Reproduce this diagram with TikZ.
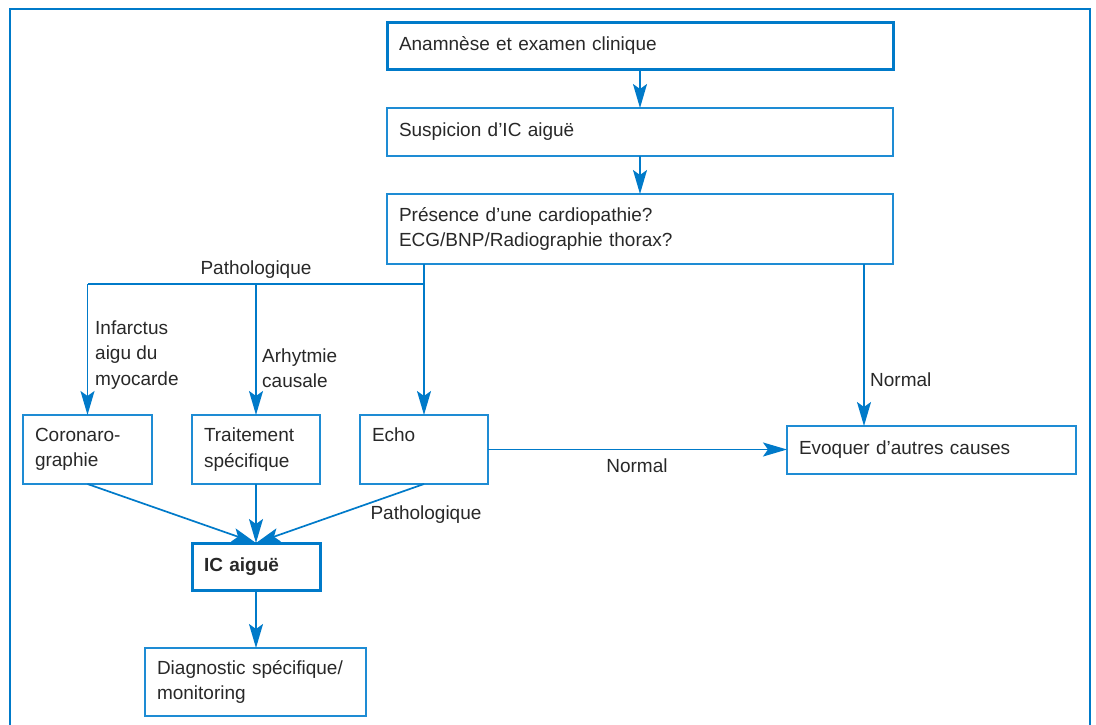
\documentclass[tikz,border=0pt]{standalone}
\usepackage{fontspec}
\setmainfont{Liberation Sans}
\usetikzlibrary{arrows.meta}
\definecolor{lineblue}{RGB}{0,122,201}
\definecolor{boxblue}{RGB}{30,140,212}
\definecolor{txt}{RGB}{40,40,40}
\tikzset{
  box/.style={draw=boxblue, line width=1.5pt, anchor=north west, inner xsep=12pt, inner ysep=0pt,
    outer sep=0pt, align=left, text=txt, font=\fontsize{19}{25.5}\selectfont},
  thickbox/.style={box, draw=lineblue, line width=3pt},
  lbl/.style={inner sep=0pt, text=txt, align=left, font=\fontsize{19}{25.5}\selectfont},
  conn/.style={draw=lineblue, line width=1.7pt},
  arr/.style={conn, -{Stealth[length=24pt,width=14pt,inset=5pt]}}
}
\begin{document}
\begin{tikzpicture}[x=1pt,y=-1pt]
\useasboundingbox (0,0) rectangle (1096,724);
% outer frame (open at bottom)
\draw[draw=lineblue, line width=2.5pt] (10,730) -- (10,9) -- (1090,9) -- (1090,730);

\node[thickbox, text width=482pt, minimum height=47pt] (a) at (387,22) {Anamnèse et examen clinique};
\node[box, text width=482pt, minimum height=48pt] (b) at (387,108) {Suspicion d’IC aiguë};
\node[box, text width=482pt, minimum height=70pt] (c) at (387,194) {Présence d’une cardiopathie?\\ECG/BNP/Radiographie thorax?};
\node[box, text width=105pt, minimum height=69pt] (coro) at (23,415) {Coronaro-\\graphie};
\node[box, text width=104pt, minimum height=69pt] (tr) at (192,415) {Traitement\\spécifique};
\node[box, text width=104pt, minimum height=69pt] (echo) at (360,415) {Echo\\\phantom{g}};
\node[box, text width=265pt, minimum height=48pt] (ev) at (787,426) {Evoquer d’autres causes};
\node[thickbox, text width=104pt, minimum height=47pt, font=\fontsize{19}{25.5}\selectfont\bfseries] (ic) at (192,543) {IC aiguë};
\node[box, text width=197pt, minimum height=68pt] (diag) at (145,648) {Diagnostic spécifique/\\monitoring};

% connectors
\draw[arr] (a.south) -- (a.south |- b.north);
\draw[arr] (b.south) -- (b.south |- c.north);
\coordinate (j) at (424,284);
\draw[conn] (c.south -| j) -- (j);
\draw[arr] (j) -- (j |- echo.north);
\draw[conn] (j) -- (j -| coro.north);
\draw[arr] (j -| coro.north) -- (coro.north);
\draw[arr] (j -| tr.north) -- (tr.north);
\coordinate (cn) at (864,0);
\draw[arr] (c.south -| cn) -- (ev.north -| cn);
\draw[arr] (echo.east) -- (echo.east -| ev.west);
\draw[arr] (coro.south) -- (ic.north);
\draw[arr] (tr.south) -- (ic.north);
\draw[arr] (echo.south) -- (ic.north);
\draw[arr] (ic.south) -- (ic.south |- diag.north);

% labels
\node[lbl] (lp1) at (256,270) {Pathologique};
\node[lbl, anchor=west] (linf) at (95,355) {Infarctus\\aigu du\\myocarde};
\node[lbl, anchor=west] (larh) at (262,368) {Arhytmie\\causale};
\node[lbl, anchor=west] (ln1) at (870,380) {Normal};
\node[lbl] (ln2) at (637,466) {Normal};
\node[lbl] (lp2) at (426,515) {Pathologique};
\end{tikzpicture}
\end{document}
